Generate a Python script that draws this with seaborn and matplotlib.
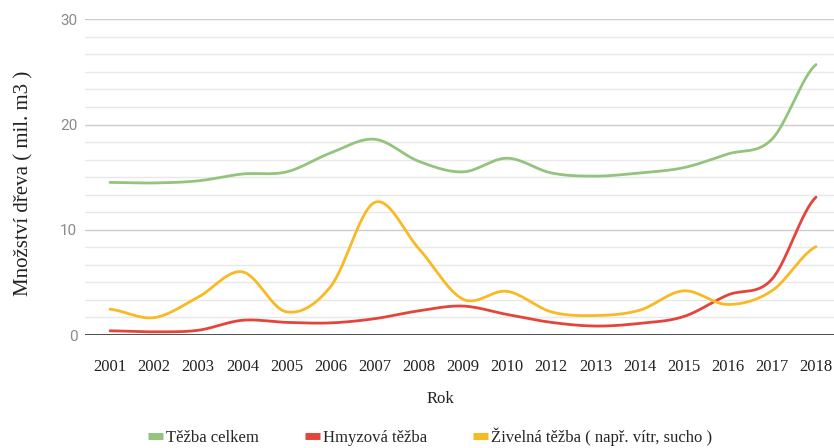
import numpy as np
import pandas as pd
import seaborn as sns
import matplotlib.pyplot as plt
from matplotlib.lines import Line2D
from matplotlib.ticker import MultipleLocator

# Roky a objemy těžby (mil. m3)
years = ["2001", "2002", "2003", "2004", "2005", "2006", "2007", "2008", "2009",
         "2010", "2012", "2013", "2014", "2015", "2016", "2017", "2018"]
tezba_celkem = [14.5, 14.45, 14.65, 15.3, 15.5, 17.3, 18.6, 16.5, 15.5,
                16.8, 15.4, 15.1, 15.4, 15.9, 17.2, 18.6, 25.7]
hmyzova_tezba = [0.4, 0.3, 0.45, 1.4, 1.2, 1.15, 1.55, 2.3, 2.75,
                 1.95, 1.2, 0.85, 1.1, 1.75, 3.8, 5.3, 13.1]
zivelna_tezba = [2.45, 1.65, 3.6, 6.0, 2.2, 4.6, 12.6, 8.2, 3.4,
                 4.15, 2.2, 1.85, 2.35, 4.2, 2.9, 4.2, 8.4]

series_names = ["Těžba celkem", "Hmyzová těžba", "Živelná těžba ( např. vítr, sucho )"]
colors = ["#93c47d", "#e5443a", "#f9b923"]


def smooth_curve(values, steps=30):
    """Catmull-Rom spline through the points at integer positions."""
    y = np.asarray(values, dtype=float)
    pad = np.concatenate([[y[0]], y, [y[-1]]])
    tangents = (pad[2:] - pad[:-2]) / 2.0
    xs, ys = [], []
    t = np.linspace(0, 1, steps, endpoint=False)
    h00 = 2 * t**3 - 3 * t**2 + 1
    h10 = t**3 - 2 * t**2 + t
    h01 = -2 * t**3 + 3 * t**2
    h11 = t**3 - t**2
    for i in range(len(y) - 1):
        seg = h00 * y[i] + h10 * tangents[i] + h01 * y[i + 1] + h11 * tangents[i + 1]
        xs.append(i + t)
        ys.append(seg)
    xs.append([len(y) - 1])
    ys.append([y[-1]])
    return np.concatenate(xs), np.concatenate(ys)


frames = []
for name, vals in zip(series_names, [tezba_celkem, hmyzova_tezba, zivelna_tezba]):
    sx, sy = smooth_curve(vals)
    frames.append(pd.DataFrame({"x": sx, "y": sy, "series": name}))
df = pd.concat(frames, ignore_index=True)

sns.set_theme(style="white")
plt.rcParams["font.family"] = ["Liberation Serif", "DejaVu Serif"]

W, H = 834, 448
ax_left, ax_right, ax_top, ax_bottom = 85, 834, 19.3, 335
fig = plt.figure(figsize=(W / 100, H / 100), dpi=100)
ax = fig.add_axes([ax_left / W, (H - ax_bottom) / H,
                   (ax_right - ax_left) / W, (ax_bottom - ax_top) / H])

# gridlines
ax.set_ylim(0, 30)
ax.yaxis.set_major_locator(MultipleLocator(10))
ax.yaxis.set_minor_locator(MultipleLocator(10 / 6))
ax.grid(True, which="major", axis="y", color="#cccccc", linewidth=1.0)
ax.grid(True, which="minor", axis="y", color="#e8e8e8", linewidth=1.0)
ax.set_axisbelow(True)

sns.lineplot(data=df, x="x", y="y", hue="series", palette=colors,
             estimator=None, sort=False, linewidth=2.0, legend=False, ax=ax)

ax.axhline(0, color="#333333", linewidth=1.2, zorder=3)

# first and last year sit at 110 px and 816 px across the figure
step = (816 - 110) / (len(years) - 1)
ax.set_xlim(-(110 - ax_left) / step, len(years) - 1 + (ax_right - 816) / step)
ax.set_xticks(range(len(years)))
ax.set_xticklabels(years, fontsize=12, color="#222222")
ax.tick_params(axis="x", length=0, pad=17)
ax.tick_params(axis="y", length=0, pad=5.5)
for lbl in ax.get_yticklabels():
    lbl.set_fontfamily(["Roboto", "DejaVu Sans"])
    lbl.set_fontsize(11)
    lbl.set_color("#8a8a8a")

for s in ax.spines.values():
    s.set_visible(False)

aw = ax_right - ax_left
ah = ax_bottom - ax_top
ax.set_xlabel("Rok", fontsize=12, color="#222222")
ax.xaxis.set_label_coords((440 - ax_left) / aw, (ax_bottom - 391) / ah)
ax.set_ylabel("Množství dřeva ( mil. m3 )", fontsize=15, color="#222222")
ax.yaxis.set_label_coords((33 - ax_left) / aw, (ax_bottom - 183) / ah)

handles = [Line2D([0], [0], color=c, linewidth=5, solid_capstyle="butt") for c in colors]
fig.legend(handles, series_names, loc="center", bbox_to_anchor=(430 / W, 1 - 437 / H),
           ncol=3, frameon=False, fontsize=12, handlelength=0.9, handletextpad=0.15,
           columnspacing=2.8)

fig.savefig("out.png", dpi=100)
